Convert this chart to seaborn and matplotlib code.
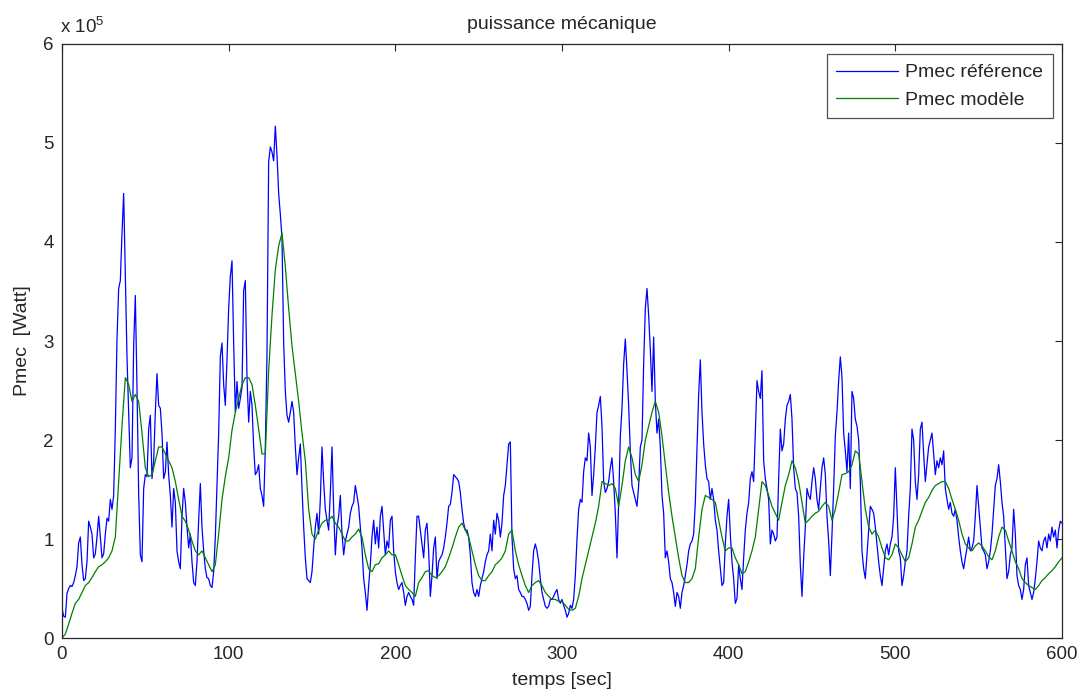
import numpy as np
import pandas as pd
import matplotlib
matplotlib.use("Agg")
import matplotlib.pyplot as plt
import seaborn as sns

# Mechanical power, reference measurement (units of 1e5 W), sampled every 1 s from 0 to 600 s
t_ref = np.arange(0, 601, 1)
p_ref = [
    0.30, 0.22, 0.21, 0.45, 0.50, 0.53, 0.52, 0.56, 0.63, 0.72,
    0.96, 1.02, 0.74, 0.58, 0.60, 0.77, 1.18, 1.12, 1.05, 0.81,
    0.85, 1.02, 1.23, 1.02, 0.81, 0.85, 1.05, 1.21, 1.18, 1.40,
    1.30, 1.44, 2.11, 3.02, 3.53, 3.61, 4.09, 4.49, 3.67, 2.84,
    2.28, 1.72, 1.82, 2.95, 3.46, 2.53, 1.46, 0.84, 0.77, 1.51,
    1.65, 1.63, 2.11, 2.25, 1.61, 1.79, 2.28, 2.67, 2.35, 2.32,
    2.07, 1.61, 1.68, 1.98, 1.65, 1.44, 1.12, 1.51, 1.37, 0.88,
    0.77, 0.70, 1.23, 1.51, 1.37, 1.12, 0.91, 1.05, 0.77, 0.56,
    0.53, 0.77, 1.19, 1.56, 1.12, 0.88, 0.70, 0.61, 0.60, 0.53,
    0.51, 0.67, 1.02, 1.54, 2.07, 2.84, 2.98, 2.56, 2.35, 2.81,
    3.33, 3.65, 3.81, 2.98, 2.28, 2.59, 2.32, 2.42, 2.53, 3.51,
    3.61, 2.63, 2.18, 2.49, 2.35, 1.93, 1.65, 1.68, 1.75, 1.51,
    1.44, 1.33, 1.93, 2.88, 4.81, 4.96, 4.91, 4.82, 5.17, 4.88,
    4.49, 4.28, 4.04, 2.98, 2.49, 2.25, 2.18, 2.28, 2.39, 2.28,
    1.93, 1.65, 1.82, 1.96, 1.51, 1.12, 0.81, 0.60, 0.58, 0.56,
    0.67, 0.91, 1.12, 1.26, 1.05, 1.40, 1.93, 1.58, 1.30, 1.19,
    1.09, 1.47, 1.93, 1.30, 0.84, 1.12, 1.23, 1.44, 1.05, 0.84,
    0.98, 1.05, 1.12, 1.26, 1.33, 1.37, 1.54, 1.44, 1.33, 1.12,
    0.91, 0.60, 0.46, 0.28, 0.53, 0.74, 1.02, 1.19, 0.95, 1.12,
    0.91, 1.23, 1.33, 1.09, 0.84, 0.98, 0.91, 1.19, 1.23, 0.88,
    0.67, 0.56, 0.49, 0.53, 0.56, 0.46, 0.33, 0.42, 0.46, 0.42,
    0.39, 0.33, 0.81, 1.23, 1.23, 1.09, 0.95, 0.81, 1.09, 1.16,
    0.88, 0.42, 0.63, 0.91, 1.02, 0.60, 0.77, 0.81, 0.84, 0.91,
    1.02, 1.16, 1.33, 1.35, 1.47, 1.65, 1.63, 1.61, 1.58, 1.47,
    1.30, 1.16, 1.09, 1.09, 1.02, 0.84, 0.56, 0.46, 0.42, 0.49,
    0.42, 0.53, 0.60, 0.67, 0.77, 0.84, 0.88, 1.05, 0.88, 1.19,
    1.05, 1.26, 1.19, 1.02, 1.16, 1.44, 1.54, 1.75, 1.96, 1.98,
    1.02, 0.70, 0.60, 0.63, 0.49, 0.46, 0.42, 0.42, 0.39, 0.35,
    0.28, 0.32, 0.63, 0.88, 0.95, 0.88, 0.77, 0.60, 0.46, 0.39,
    0.32, 0.30, 0.32, 0.39, 0.39, 0.42, 0.46, 0.49, 0.39, 0.35,
    0.39, 0.33, 0.28, 0.21, 0.25, 0.33, 0.30, 0.39, 0.63, 1.00,
    1.30, 1.40, 1.37, 1.68, 1.82, 1.79, 2.07, 1.93, 1.44, 1.65,
    1.93, 2.28, 2.35, 2.44, 2.14, 1.58, 1.47, 1.51, 1.58, 1.72,
    1.82, 1.58, 1.26, 0.81, 1.37, 2.04, 2.32, 2.77, 3.02, 2.70,
    2.35, 1.89, 1.54, 1.47, 1.40, 1.33, 1.54, 1.93, 2.00, 2.77,
    3.33, 3.53, 3.26, 2.91, 2.49, 3.04, 2.39, 2.07, 2.21, 1.93,
    1.44, 1.26, 0.81, 0.88, 0.77, 0.60, 0.56, 0.46, 0.32, 0.46,
    0.42, 0.30, 0.46, 0.53, 0.63, 0.74, 0.88, 0.95, 0.98, 1.05,
    1.37, 1.93, 2.46, 2.81, 2.28, 1.96, 1.75, 1.61, 1.58, 1.40,
    1.51, 1.40, 1.19, 1.09, 0.88, 0.70, 0.53, 0.56, 0.95, 1.23,
    1.40, 1.05, 0.77, 0.60, 0.35, 0.40, 0.74, 0.60, 0.49, 0.81,
    1.09, 1.26, 1.37, 1.61, 1.68, 1.58, 2.07, 2.60, 2.49, 2.42,
    2.70, 1.79, 1.61, 1.51, 1.40, 0.95, 1.09, 1.05, 0.98, 1.02,
    1.61, 2.11, 1.89, 1.96, 2.21, 2.35, 2.39, 2.46, 2.21, 1.72,
    1.51, 1.47, 1.23, 0.74, 0.42, 0.81, 1.12, 1.51, 1.44, 1.40,
    1.58, 1.72, 1.61, 1.40, 1.30, 1.51, 1.72, 1.82, 1.65, 1.23,
    0.98, 0.63, 1.05, 1.51, 2.04, 2.28, 2.60, 2.84, 2.63, 2.07,
    1.89, 1.68, 2.07, 1.51, 2.49, 2.42, 2.21, 2.14, 2.00, 1.58,
    0.88, 0.70, 0.60, 0.84, 1.09, 1.33, 1.30, 1.26, 1.12, 0.95,
    0.77, 0.63, 0.53, 0.70, 0.88, 0.95, 0.84, 0.95, 1.02, 1.23,
    1.72, 1.30, 0.88, 0.81, 0.53, 0.63, 0.77, 0.88, 1.23, 1.51,
    2.11, 2.00, 1.58, 1.40, 1.65, 2.11, 2.18, 1.86, 1.58, 1.75,
    1.93, 2.00, 2.07, 1.86, 1.65, 1.79, 1.72, 1.82, 1.75, 1.89,
    1.51, 1.40, 1.30, 1.37, 1.26, 1.23, 1.30, 1.19, 1.02, 0.88,
    0.77, 0.70, 0.81, 0.91, 1.02, 0.88, 0.91, 0.98, 1.23, 1.54,
    1.33, 1.12, 0.91, 0.88, 0.84, 0.70, 0.77, 0.88, 1.05, 1.30,
    1.54, 1.61, 1.75, 1.58, 1.37, 1.23, 0.91, 0.60, 0.67, 0.84,
    0.91, 1.30, 1.05, 0.63, 0.53, 0.49, 0.39, 0.49, 0.74, 0.81,
    0.53, 0.46, 0.39, 0.46, 0.60, 0.77, 0.98, 0.91, 0.88, 0.98,
    1.02, 0.91, 1.05, 0.98, 1.12, 1.02, 1.09, 0.91, 1.09, 1.18,
    1.16,
]

# Mechanical power predicted by the model (units of 1e5 W), every 2 s from 0 to 600 s
t_mod = np.arange(0, 601, 2)
p_mod = [
    0.00, 0.04, 0.14, 0.25, 0.35, 0.39, 0.46, 0.53, 0.56, 0.61,
    0.67, 0.72, 0.74, 0.77, 0.81, 0.88, 1.02, 1.58, 2.14, 2.63,
    2.56, 2.39, 2.46, 2.39, 2.07, 1.72, 1.63, 1.65, 1.79, 1.93,
    1.93, 1.86, 1.79, 1.72, 1.58, 1.40, 1.23, 1.18, 1.09, 0.98,
    0.88, 0.84, 0.88, 0.81, 0.74, 0.67, 0.74, 1.05, 1.40, 1.63,
    1.82, 2.10, 2.28, 2.42, 2.56, 2.63, 2.63, 2.56, 2.35, 2.11,
    1.86, 1.86, 2.70, 3.26, 3.72, 3.96, 4.09, 3.75, 3.33, 2.95,
    2.67, 2.39, 2.07, 1.79, 1.30, 1.05, 1.00, 1.09, 1.16, 1.19,
    1.19, 1.23, 1.16, 1.12, 1.05, 0.98, 0.98, 1.02, 1.05, 1.10,
    1.02, 0.84, 0.70, 0.67, 0.74, 0.75, 0.81, 0.84, 0.88, 0.84,
    0.84, 0.74, 0.63, 0.53, 0.49, 0.46, 0.42, 0.56, 0.61, 0.67,
    0.68, 0.63, 0.61, 0.63, 0.67, 0.72, 0.81, 0.91, 1.02, 1.12,
    1.16, 1.09, 1.02, 0.88, 0.74, 0.63, 0.58, 0.58, 0.63, 0.67,
    0.74, 0.77, 0.81, 0.88, 1.05, 1.09, 0.88, 0.74, 0.63, 0.53,
    0.46, 0.53, 0.56, 0.58, 0.53, 0.46, 0.42, 0.39, 0.39, 0.37,
    0.37, 0.33, 0.29, 0.28, 0.30, 0.42, 0.60, 0.74, 0.88, 1.02,
    1.16, 1.33, 1.58, 1.56, 1.54, 1.56, 1.51, 1.33, 1.54, 1.79,
    1.93, 1.82, 1.65, 1.58, 1.75, 2.00, 2.14, 2.28, 2.39, 2.28,
    2.04, 1.75, 1.47, 1.23, 1.02, 0.81, 0.63, 0.56, 0.56, 0.60,
    0.70, 1.02, 1.30, 1.44, 1.42, 1.40, 1.37, 1.19, 1.02, 0.88,
    0.91, 0.91, 0.81, 0.74, 0.65, 0.67, 0.77, 0.88, 1.02, 1.30,
    1.58, 1.54, 1.44, 1.33, 1.26, 1.19, 1.37, 1.54, 1.65, 1.79,
    1.72, 1.58, 1.37, 1.16, 1.19, 1.23, 1.26, 1.28, 1.33, 1.37,
    1.33, 1.19, 1.30, 1.47, 1.65, 1.66, 1.68, 1.75, 1.89, 1.86,
    1.58, 1.30, 1.12, 1.05, 1.09, 1.02, 0.91, 0.81, 0.79, 0.84,
    0.95, 0.91, 0.84, 0.77, 0.81, 0.95, 1.12, 1.19, 1.28, 1.37,
    1.42, 1.49, 1.54, 1.56, 1.58, 1.58, 1.51, 1.40, 1.30, 1.19,
    1.05, 0.95, 0.91, 0.88, 0.93, 0.96, 0.93, 0.88, 0.82, 0.79,
    0.88, 1.02, 1.12, 1.09, 0.98, 0.88, 0.77, 0.70, 0.60, 0.56,
    0.53, 0.51, 0.49, 0.53, 0.58, 0.61, 0.65, 0.68, 0.72, 0.77,
    0.81,
]

x_ticks = [0, 100, 200, 300, 400, 500, 600]
y_ticks = [0, 1, 2, 3, 4, 5, 6]
scale = 1e5

ref_df = pd.DataFrame({"t": t_ref, "P": np.asarray(p_ref) * scale})
mod_df = pd.DataFrame({"t": t_mod, "P": np.asarray(p_mod) * scale})

sns.set_style("white")
plt.rcParams["font.family"] = ["Liberation Sans", "DejaVu Sans"]
plt.rcParams["mathtext.fontset"] = "custom"
plt.rcParams["mathtext.rm"] = "Liberation Sans"

ink = "#262626"
fig = plt.figure(figsize=(10.82, 6.95), dpi=100)
ax = fig.add_axes([0.0573, 0.082, 0.9242, 0.8547])

sns.lineplot(data=ref_df, x="t", y="P", ax=ax, color="#0000ff",
             linewidth=0.9, label="Pmec référence")
sns.lineplot(data=mod_df, x="t", y="P", ax=ax, color="#008000",
             linewidth=0.9, label="Pmec modèle")

ax.set_xlim(0, 600)
ax.set_ylim(0, 6 * scale)
ax.set_xticks(x_ticks)
ax.set_xticklabels([str(v) for v in x_ticks])
ax.set_yticks([v * scale for v in y_ticks])
ax.set_yticklabels([str(v) for v in y_ticks])

ax.tick_params(direction="in", length=5, width=0.8, top=True, right=True,
               labelsize=13.5, colors=ink)
ax.tick_params(axis="x", pad=6)
ax.tick_params(axis="y", pad=6)
for side in ax.spines.values():
    side.set_color(ink)
    side.set_linewidth(0.9)

ax.set_title("puissance mécanique", fontsize=14, pad=11, color=ink)
ax.set_xlabel("temps [sec]", fontsize=14, labelpad=6, color=ink)
ax.set_ylabel("Pmec  [Watt]", fontsize=14, labelpad=9, color=ink)

fig.text(60 / 1082, 1 - 33 / 695, r"x 10$^{5}$", fontsize=13.5,
         ha="left", va="baseline", color=ink)

leg = ax.legend(loc="upper right", fontsize=14, frameon=True, fancybox=False,
                edgecolor=ink, handlelength=3.2, handletextpad=0.35,
                borderpad=0.5, labelspacing=0.5, borderaxespad=0,
                bbox_to_anchor=(0.991, 0.983))
leg.get_frame().set_linewidth(0.9)
for txt in leg.get_texts():
    txt.set_color(ink)

fig.savefig("out.png", dpi=100, facecolor="white")
